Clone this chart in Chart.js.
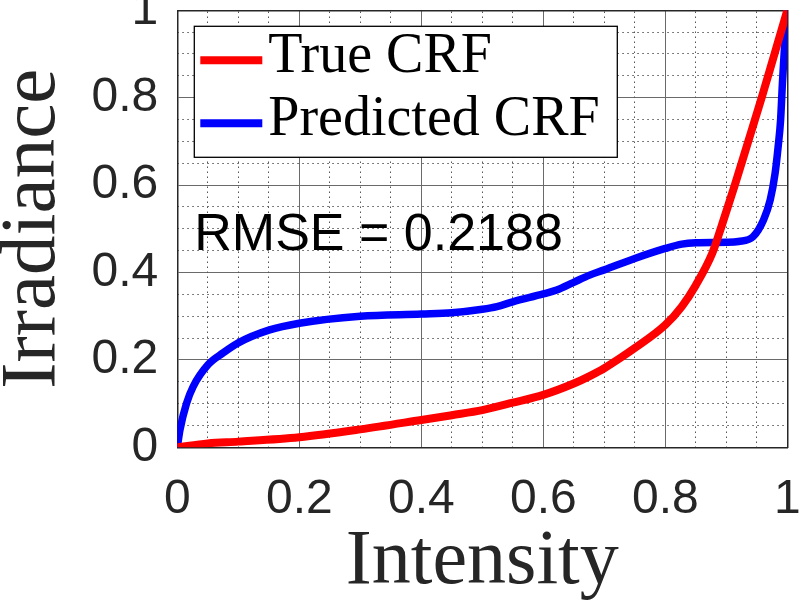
<!DOCTYPE html>
<html>
<head>
<meta charset="utf-8">
<script src="https://cdn.jsdelivr.net/npm/chart.js@4.4.0/dist/chart.umd.min.js"></script>
<style>
    html, body { margin: 0; padding: 0; background: #fff; }
</style>
</head>
<body>
<canvas id="crfChart" width="801" height="612"></canvas>
<script>
// values
const trueX = [0, 0.05, 0.1, 0.2, 0.3, 0.4, 0.45, 0.5, 0.55, 0.6, 0.65, 0.676, 0.7, 0.75, 0.8, 0.827, 0.85, 0.877, 0.892, 0.914, 0.936, 0.958, 0.979, 1];
const trueY = [0, 0.009, 0.013, 0.023, 0.041, 0.0625, 0.0735, 0.085, 0.102, 0.12, 0.146, 0.163, 0.181, 0.227, 0.28, 0.322, 0.371, 0.444, 0.505, 0.6, 0.7, 0.8, 0.9, 1];
const predX = [0, 0.0044, 0.015, 0.026, 0.051, 0.075, 0.1, 0.15, 0.2, 0.3, 0.4, 0.45, 0.5, 0.524, 0.55, 0.6, 0.622, 0.649, 0.676, 0.7, 0.75, 0.8, 0.827, 0.85, 0.9, 0.92, 0.944, 0.961, 0.972, 0.98, 0.985, 0.989, 0.992, 0.996, 1];
const predY = [0, 0.04, 0.10, 0.139, 0.19, 0.216, 0.239, 0.268, 0.284, 0.30, 0.305, 0.308, 0.316, 0.322, 0.333, 0.351, 0.36, 0.377, 0.394, 0.406, 0.432, 0.455, 0.465, 0.468, 0.469, 0.471, 0.482, 0.52, 0.566, 0.627, 0.688, 0.749, 0.833, 0.93, 1];
const tickValues = [0, 0.2, 0.4, 0.6, 0.8, 1];
const seriesNames = ['True CRF', 'Predicted CRF'];
const seriesColors = ['#ff0000', '#0000ff'];
const rmse = 0.2188;

const axisColor = '#262626';
const sansFont = "'Liberation Sans', Arial, sans-serif";
const serifFont = "'Liberation Serif', 'Times New Roman', serif";

const toPoints = function (xs, ys) {
    return xs.map((x, i) => ({ x: x, y: ys[i] }));
};

const isMajor = function (v) {
    return tickValues.some(t => Math.abs(t - v) < 1e-6);
};

const setMajorTicks = function (scale) {
    scale.ticks = tickValues.map(v => ({ value: v }));
};

// legend box + RMSE note, drawn inside the plot area
const notesPlugin = {
    id: 'notes',
    afterDraw(chart) {
        const ctx = chart.ctx;
        const a = chart.chartArea;
        const bx = a.left + 17, by = a.top + 16, bw = 423, bh = 131;
        ctx.save();
        ctx.fillStyle = '#fff';
        ctx.fillRect(bx, by, bw, bh);
        ctx.strokeStyle = '#000';
        ctx.lineWidth = 1.3;
        ctx.strokeRect(bx, by, bw, bh);
        const rows = [by + 34, by + 97];
        const bases = [by + 46, by + 109];
        chart.data.datasets.forEach(function (ds, i) {
            ctx.strokeStyle = ds.borderColor;
            ctx.lineWidth = 8;
            ctx.beginPath();
            ctx.moveTo(bx + 6, rows[i]);
            ctx.lineTo(bx + 68, rows[i]);
            ctx.stroke();
            ctx.fillStyle = '#000';
            ctx.font = '56px ' + serifFont;
            ctx.textBaseline = 'alphabetic';
            ctx.textAlign = 'left';
            ctx.fillText(ds.label, bx + 74, bases[i]);
        });
        ctx.fillStyle = '#000';
        ctx.font = '52px ' + sansFont;
        ctx.fillText('RMSE = ' + rmse.toFixed(4), a.left + 17, a.top + 240);
        ctx.restore();
    }
};

const minorGrid = function (c) {
    return (c.tick && isMajor(c.tick.value)) ? 'rgba(0,0,0,0)' : '#555555';
};

const ctx = document.getElementById('crfChart').getContext('2d');
new Chart(ctx, {
    type: 'scatter',
    data: {
        datasets: [{
            label: seriesNames[0],
            data: toPoints(trueX, trueY),
            showLine: true,
            borderColor: seriesColors[0],
            borderWidth: 8,
            pointRadius: 0,
            cubicInterpolationMode: 'monotone',
            fill: false
        }, {
            label: seriesNames[1],
            data: toPoints(predX, predY),
            showLine: true,
            borderColor: seriesColors[1],
            borderWidth: 7.5,
            pointRadius: 0,
            cubicInterpolationMode: 'monotone',
            fill: false
        }]
    },
    options: {
        responsive: false,
        animation: false,
        events: [],
        elements: { line: { borderWidth: 8, borderCapStyle: 'round', borderJoinStyle: 'round' } },
        layout: { padding: { top: 10.3, right: 13.7, left: 0, bottom: 0 } },
        plugins: {
            legend: { display: false },
            tooltip: { enabled: false }
        },
        scales: {
            x: {
                type: 'linear',
                position: 'bottom',
                min: 0,
                max: 1,
                afterBuildTicks: setMajorTicks,
                afterFit: function (s) { s.height = 612 - 447.3; s.paddingLeft = 0; s.paddingRight = 0; },
                grid: { color: '#6a6a6a', lineWidth: 1, drawTicks: false },
                border: { color: axisColor, width: 1.5 },
                ticks: {
                    color: axisColor,
                    font: { family: sansFont, size: 48 },
                    padding: 24,
                    maxRotation: 0,
                    autoSkip: false,
                    callback: v => String(v)
                },
                title: {
                    display: true,
                    text: 'Intensity',
                    color: axisColor,
                    font: { family: serifFont, size: 78, lineHeight: 0.85 },
                    padding: { top: 0, bottom: 16 }
                }
            },
            y: {
                type: 'linear',
                position: 'left',
                min: 0,
                max: 1,
                afterBuildTicks: setMajorTicks,
                afterFit: function (s) { s.width = 177.3; s.paddingTop = 0; s.paddingBottom = 0; },
                grid: { color: '#6a6a6a', lineWidth: 1, drawTicks: false },
                border: { color: axisColor, width: 1.5 },
                ticks: {
                    color: axisColor,
                    font: { family: sansFont, size: 48 },
                    padding: 19,
                    autoSkip: false,
                    callback: v => String(v)
                },
                title: {
                    display: true,
                    text: 'Irradiance',
                    color: axisColor,
                    font: { family: serifFont, size: 79, lineHeight: 0.84 },
                    padding: { top: 0, bottom: 0 }
                }
            },
            // minor dotted grid + top/right box edges
            x2: {
                type: 'linear',
                axis: 'x',
                position: 'top',
                min: 0,
                max: 1,
                afterFit: function (s) { s.height = 0; s.paddingLeft = 0; s.paddingRight = 0; },
                ticks: { display: false, stepSize: 0.05 },
                grid: { drawTicks: false, lineWidth: 1, color: minorGrid },
                border: { display: true, color: axisColor, width: 1.5, dash: [1.5, 3.5] }
            },
            y2: {
                type: 'linear',
                axis: 'y',
                position: 'right',
                min: 0,
                max: 1,
                afterFit: function (s) { s.width = 0; s.paddingTop = 0; s.paddingBottom = 0; },
                ticks: { display: false, stepSize: 0.05 },
                grid: { drawTicks: false, lineWidth: 1, color: minorGrid },
                border: { display: true, color: axisColor, width: 1.5, dash: [1.5, 3.5] }
            }
        }
    },
    plugins: [notesPlugin]
});
</script>
</body>
</html>
